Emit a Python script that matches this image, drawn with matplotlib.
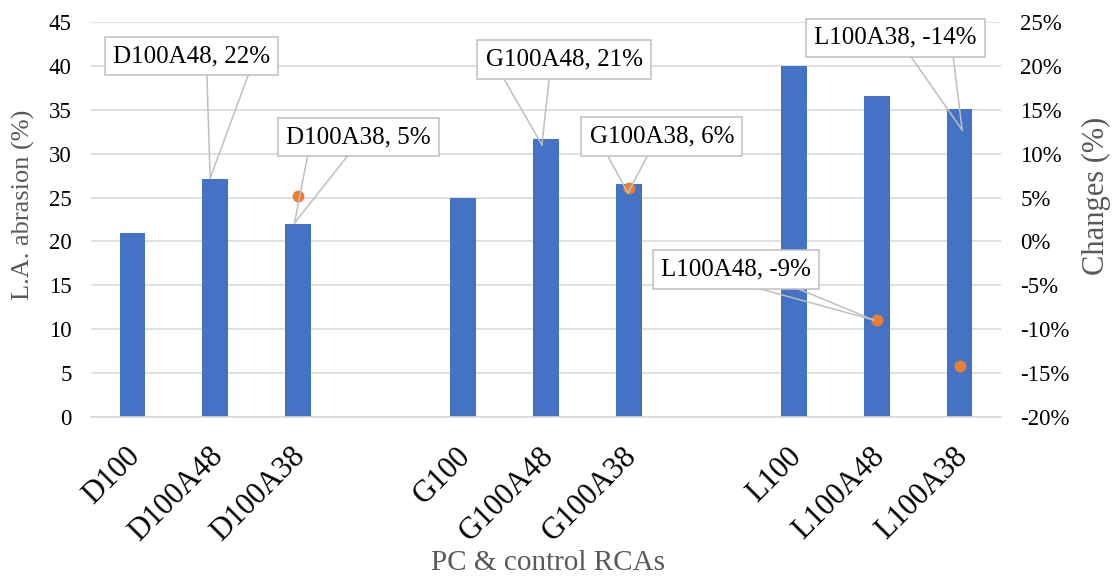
import matplotlib
matplotlib.use('Agg')
import matplotlib.pyplot as plt
import matplotlib.transforms as mtransforms
import numpy as np
from matplotlib.ticker import FuncFormatter, MultipleLocator

# categories (empty strings are the gaps between groups)
categories = ['D100', 'D100A48', 'D100A38', '', 'G100', 'G100A48', 'G100A38',
              '', 'L100', 'L100A48', 'L100A38']
abrasion = [21.0, 27.1, 22.0, np.nan, 24.9, 31.7, 26.6, np.nan, 40.0, 36.6, 35.1]
changes = [np.nan, 0.226, 0.052, np.nan, np.nan, 0.21, 0.061, np.nan, np.nan,
           -0.09, -0.142]

# callouts: text, category index pointed at, y of the point (left axis units)
callout_text = ['D100A48, 22%', 'D100A38, 5%', 'G100A48, 21%', 'G100A38, 6%',
                'L100A48, -9%', 'L100A38, -14%']
callout_idx = [1, 2, 5, 6, 9, 10]
callout_tip_y = [27.2, 22.1, 31.0, 25.5, 11.05, 32.7]

BLUE = '#4472C4'
ORANGE = '#ED7D31'
GRID = '#D9D9D9'
TITLE_GREY = '#595959'
plt.rcParams['font.family'] = ['Liberation Serif', 'DejaVu Serif']

fig = plt.figure(figsize=(11.14, 5.77), dpi=100)
ax = fig.add_axes([0.0817, 0.2773, 0.8169, 0.6846])
x = np.arange(len(categories))
ax.bar(x, abrasion, width=0.31, color=BLUE, zorder=2)
ax.set_xlim(-0.5, len(categories) - 0.5)
ax.set_ylim(0, 45)
ax.yaxis.set_major_locator(MultipleLocator(5))
ax.grid(True, axis='y', color=GRID, linewidth=1.2, zorder=0)
ax.set_axisbelow(True)
for side in ['top', 'right', 'left']:
    ax.spines[side].set_visible(False)
ax.spines['bottom'].set_color(GRID)
ax.spines['bottom'].set_linewidth(1.2)
ax.tick_params(length=0)
ax.tick_params(axis='y', labelsize=16.5, pad=14)
ax.set_xticks(x)
ax.set_xticklabels(categories, rotation=45, ha='right', rotation_mode='anchor',
                   fontsize=22)
ax.tick_params(axis='x', pad=18)
shift = mtransforms.ScaledTranslation(-7 / 100, 0, fig.dpi_scale_trans)
for lab in ax.get_xticklabels():
    lab.set_transform(lab.get_transform() + shift)
ax.set_ylabel('L.A. abrasion (%)', fontsize=19, color=TITLE_GREY)
ax.yaxis.set_label_coords(-0.062, 0.537)
ax.set_xlabel('PC & control RCAs', fontsize=21, color=TITLE_GREY)
ax.xaxis.set_label_coords(0.502, -0.337)

ax2 = ax.twinx()
ax2.set_ylim(-0.20, 0.25)
ax2.yaxis.set_major_locator(MultipleLocator(0.05))
ax2.yaxis.set_major_formatter(FuncFormatter(lambda v, _: f'{round(v * 100):d}%'))
ax2.tick_params(length=0, labelsize=16.5, pad=14)
for side in ['top', 'right', 'left', 'bottom']:
    ax2.spines[side].set_visible(False)
ax2.plot(x, changes, 'o', color=ORANGE, markersize=7.5, zorder=3)
ax2.set_ylabel('Changes (%)', fontsize=22, color=TITLE_GREY)
ax2.yaxis.set_label_coords(1.089, 0.56)

# callout boxes: centre of box and the two feet of the leader, in data units
box_xy = [(0.715, 41.1), (2.73, 31.9), (5.22, 40.7), (6.40, 31.95),
          (7.30, 16.8), (9.22, 43.2)]
feet = [(0.90, 1.41, 39.2), (2.12, 2.61, 29.85), (4.48, 5.04, 38.7),
        (5.74, 6.23, 29.85), (7.47, 7.97, 14.9), (9.40, 9.92, 41.2)]
tip_dx = [-0.06, -0.04, -0.05, -0.01, -0.04, 0.03]
for txt, i, ty, (bx, by), (f1, f2, fy), dx in zip(callout_text, callout_idx,
                                                 callout_tip_y, box_xy, feet, tip_dx):
    tx = i + dx
    for fx in (f1, f2):
        ax2.plot([fx, tx], [fy, ty], color='#BFBFBF', linewidth=1.1, zorder=4,
                 transform=ax.transData, clip_on=False)
    ax2.text(bx, by, txt, transform=ax.transData, ha='center', va='center',
             fontsize=18, zorder=5, clip_on=False,
             bbox=dict(boxstyle='square,pad=0.33', facecolor='white',
                       edgecolor='#BFBFBF', linewidth=1.1))

fig.savefig('out.png', dpi=100, facecolor='white')
